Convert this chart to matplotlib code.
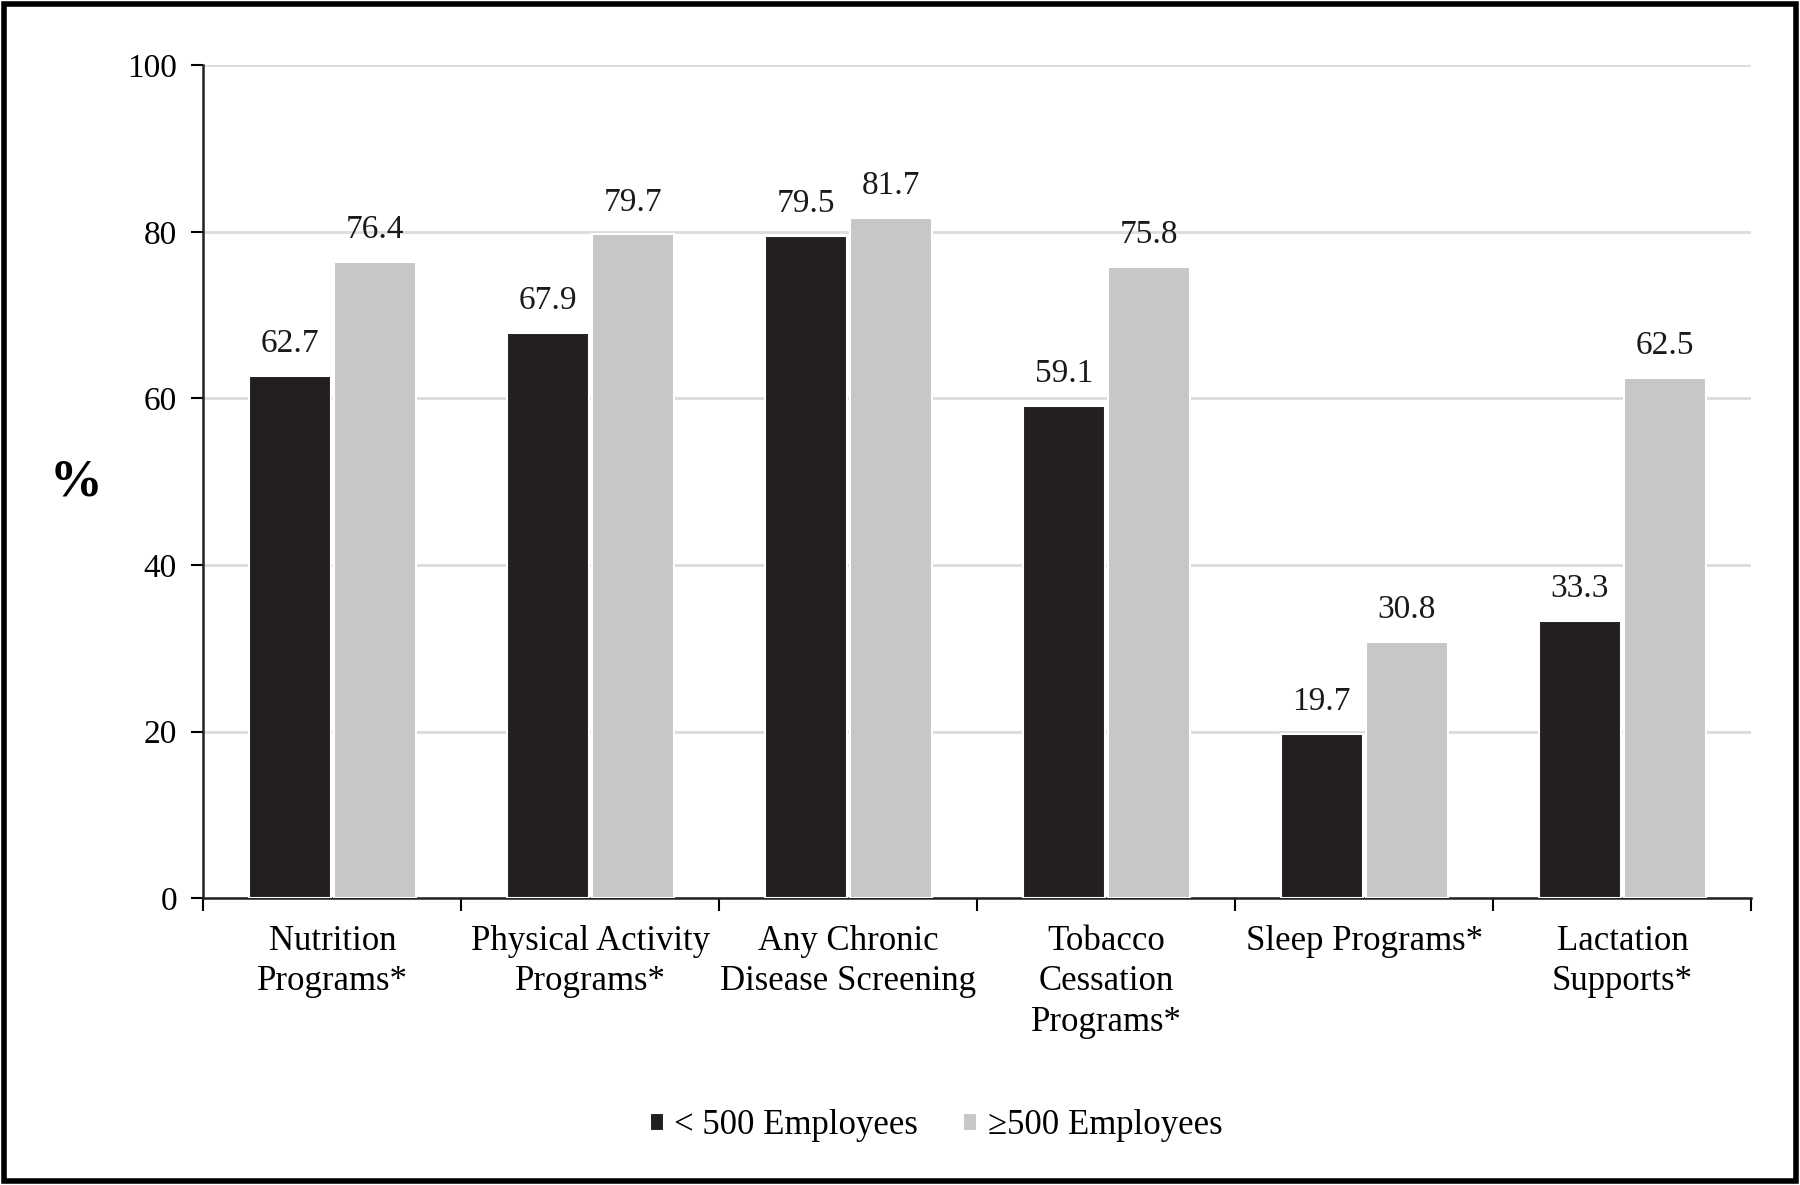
import matplotlib
matplotlib.use("Agg")
import matplotlib.pyplot as plt
import numpy as np
from matplotlib.patches import Rectangle

categories = ["Nutrition\nPrograms*", "Physical Activity\nPrograms*", "Any Chronic\nDisease Screening",
              "Tobacco\nCessation\nPrograms*", "Sleep Programs*", "Lactation\nSupports*"]
small = [62.7, 67.9, 79.5, 59.1, 19.7, 33.3]
large = [76.4, 79.7, 81.7, 75.8, 30.8, 62.5]
series_names = ["< 500 Employees", "\u2265500 Employees"]
yticks = [0, 20, 40, 60, 80, 100]

plt.rcParams['font.family'] = ['Liberation Serif', 'DejaVu Serif']

fig = plt.figure(figsize=(18, 11.85), dpi=100)
ax = fig.add_axes([0.113, 0.242, 0.860, 0.703])

dark = "#231f20"
light = "#c6c7c9"
x = np.arange(len(categories))
w = 0.32
off = 0.165
b1 = ax.bar(x - off, small, w, color=dark, edgecolor="white", linewidth=1.5, label=series_names[0], zorder=3)
b2 = ax.bar(x + off, large, w, color=light, edgecolor="white", linewidth=1.5, label=series_names[1], zorder=3)

for bars, vals in ((b1, small), (b2, large)):
    for r, v in zip(bars, vals):
        ax.annotate(f"{v:.1f}", (r.get_x() + r.get_width() / 2, r.get_height()),
                    xytext=(0, 12), textcoords="offset points", ha="center", va="bottom",
                    fontsize=24, color="#1a1a1a")

ax.set_xlim(-0.5, len(categories) - 0.5)
ax.set_ylim(0, 100)
ax.set_yticks(yticks)
ax.set_yticklabels([str(t) for t in yticks], fontsize=24)
ax.yaxis.grid(True, color="#dcdcdc", linewidth=2, zorder=0)
ax.set_axisbelow(True)

ax.set_xticks(np.arange(len(categories) + 1) - 0.5, minor=False)
ax.set_xticklabels([""] * (len(categories) + 1))
ax.set_xticks(x, minor=True)
ax.set_xticklabels(categories, minor=True, fontsize=25, linespacing=1.3)
ax.tick_params(axis="x", which="minor", length=0, pad=19)
ax.tick_params(axis="x", which="major", length=9, width=1.5, direction="out")
ax.tick_params(axis="y", length=9, width=1.5, direction="out", pad=10)

for s in ("top", "right"):
    ax.spines[s].set_visible(False)
for s in ("left", "bottom"):
    ax.spines[s].set_linewidth(1.8)
    ax.spines[s].set_color("#222222")

fig.text(0.042, 0.593, "%", fontsize=38, fontweight="bold", ha="center", va="center")

leg = fig.legend(handles=[b1, b2], labels=series_names, loc="center", bbox_to_anchor=(0.52, 0.05),
                 ncol=2, frameon=False, fontsize=25, handlelength=0.4, handleheight=0.4,
                 handletextpad=0.3, columnspacing=1.3)

fig.patches.append(Rectangle((0.002, 0.003), 0.996, 0.994, transform=fig.transFigure,
                             fill=False, edgecolor="black", linewidth=4))

fig.savefig("out.png", dpi=100, facecolor="white")
